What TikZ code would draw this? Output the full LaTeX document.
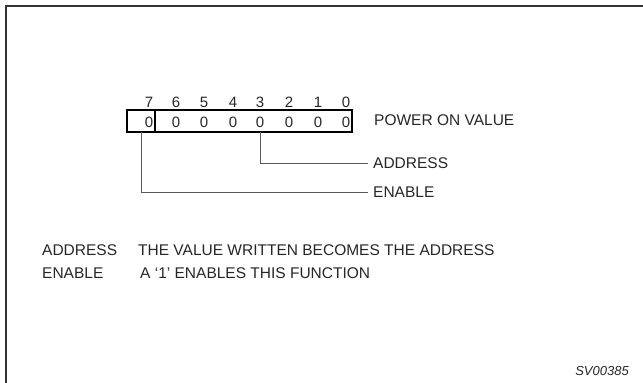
\documentclass[tikz,border=0pt]{standalone}
\usepackage{fontspec}
\setmainfont{Liberation Sans}
\begin{document}
\begin{tikzpicture}[x=1pt,y=-1pt,
  lbl/.style={inner sep=0pt,anchor=base west,font=\fontsize{15.5}{18}\selectfont,text=black!85},
  bitnum/.style={inner sep=0pt,anchor=base,font=\fontsize{15}{18}\selectfont,text=black!85},
  frameline/.style={line width=2pt,draw=black!80},
  boxline/.style={line width=2pt,draw=black},
  conn/.style={line width=1pt,draw=black!65}]
\useasboundingbox (0,0) rectangle (643,383);
% outer frame (only top and left visible)
\draw[frameline] (6,383) -- (6,6) -- (643,6);
% register box
\draw[boxline] (127,110) rectangle (352,132);
\draw[boxline] (155,110) -- (155,132);
% bit numbers and values
\foreach \i/\x in {7/149,6/176,5/204,4/233,3/260,2/289,1/318,0/346}{
  \node[bitnum] (n\i) at (\x,107) {\i};
  \node[bitnum] (v\i) at (\x,127) {0};
  \coordinate (b\i) at (\x,132);
}
\coordinate (b7) at (141,132);
\node[lbl] (pov) at (374,125) {POWER ON VALUE};
% connectors
\node[lbl,anchor=west] (addr) at (373,163) {ADDRESS};
\node[lbl,anchor=west] (enab) at (373,192) {ENABLE};
\draw[conn] (b3) |- ([xshift=-5pt]addr.west);
\draw[conn] (b7) |- ([xshift=-5pt]enab.west);
% description
\node[lbl] (d1) at (42,255) {ADDRESS};
\node[lbl] (d1t) at (138,255) {THE VALUE WRITTEN BECOMES THE ADDRESS};
\node[lbl] (d2) at (42,278) {ENABLE};
\node[lbl] (d2t) at (140,278) {A ‘1’ ENABLES THIS FUNCTION};
\node[inner sep=0pt,anchor=base east,font=\fontsize{13}{15}\selectfont\itshape,text=black!85] (sv) at (629,375) {SV00385};
\end{tikzpicture}
\end{document}
